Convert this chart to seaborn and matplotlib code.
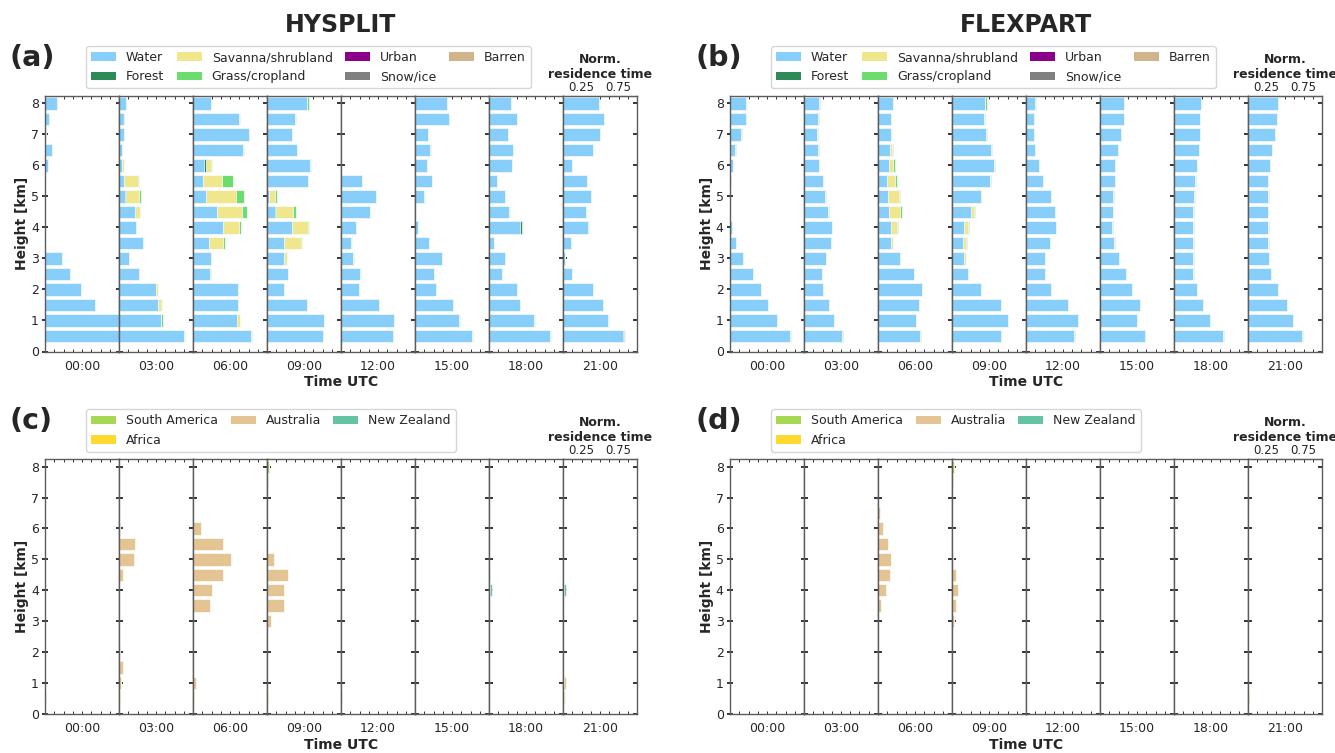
import numpy as np
import matplotlib
matplotlib.use("Agg")
import matplotlib.pyplot as plt
from matplotlib.patches import Patch
from matplotlib.ticker import MultipleLocator
import seaborn as sns

# ---------------------------------------------------------------- data
TIMES = ["00:00", "03:00", "06:00", "09:00", "12:00", "15:00", "18:00", "21:00"]
# release heights [km], listed from the top level down
HEIGHTS = [8.0, 7.5, 7.0, 6.5, 6.0, 5.5, 5.0, 4.5, 4.0, 3.5, 3.0, 2.5, 2.0, 1.5, 1.0, 0.5]

LAND_CLASSES = ["Water", "Forest", "Savanna/shrubland", "Grass/cropland",
                "Urban", "Snow/ice", "Barren"]
LAND_COLORS = ["#87CEFA", "#2E8B57", "#F0E68C", "#6CDC6E",
               "#8B008B", "#808080", "#D2B48C"]

REGIONS = ["South America", "Africa", "Australia", "New Zealand"]
REGION_COLORS = ["#A6D854", "#FFD92F", "#E5C494", "#66C2A5"]

# HYSPLIT, normalised residence time per land class (one row per release time)
HYSPLIT_WATER = [
    [0.16, 0.05, 0.015, 0.09, 0.045, 0, 0, 0, 0, 0, 0.23, 0.34, 0.49, 0.68, 1.0, 1.0],
    [0.09, 0.063, 0.063, 0.04, 0.045, 0.063, 0.085, 0.22, 0.225, 0.33, 0.13, 0.275, 0.495, 0.53, 0.57, 0.88],
    [0.24, 0.626, 0.75, 0.68, 0.15, 0.14, 0.17, 0.325, 0.40, 0.21, 0.24, 0.23, 0.61, 0.61, 0.60, 0.78],
    [0.536, 0.383, 0.333, 0.41, 0.577, 0.554, 0.03, 0.11, 0.34, 0.225, 0.225, 0.29, 0.225, 0.536, 0.77, 0.75],
    [0.005, 0, 0, 0.004, 0.004, 0.28, 0.47, 0.39, 0.2, 0.135, 0.165, 0.26, 0.24, 0.52, 0.715, 0.705],
    [0.437, 0.464, 0.17, 0.2, 0.16, 0.235, 0.126, 0, 0.036, 0.185, 0.365, 0.26, 0.28, 0.513, 0.6, 0.77],
    [0.30, 0.383, 0.26, 0.324, 0.306, 0.113, 0.21, 0.27, 0.423, 0.068, 0.216, 0.171, 0.383, 0.414, 0.613, 0.824],
    [0.486, 0.55, 0.5, 0.405, 0.12, 0.324, 0.378, 0.306, 0.333, 0.108, 0.03, 0.126, 0.41, 0.536, 0.608, 0.815],
]
HYSPLIT_FOREST = {
    "03:00": [0, 0, 0, 0, 0, 0, 0.012, 0, 0, 0, 0, 0, 0, 0, 0, 0],
    "06:00": [0, 0, 0, 0, 0.02, 0, 0, 0, 0, 0, 0, 0, 0, 0, 0, 0],
    "09:00": [0, 0, 0, 0, 0, 0, 0, 0.008, 0, 0, 0, 0, 0, 0, 0, 0],
    "18:00": [0, 0, 0, 0, 0, 0, 0, 0, 0.02, 0, 0, 0, 0, 0, 0, 0],
    "21:00": [0, 0, 0, 0, 0, 0, 0, 0, 0, 0, 0, 0, 0, 0, 0, 0.01],
}
HYSPLIT_SAVANNA = {
    "03:00": [0, 0, 0, 0, 0.02, 0.19, 0.18, 0.06, 0, 0, 0, 0, 0.03, 0.035, 0, 0],
    "06:00": [0, 0, 0, 0, 0.07, 0.25, 0.405, 0.34, 0.215, 0.195, 0, 0, 0, 0, 0.03, 0],
    "09:00": [0, 0, 0, 0, 0, 0, 0.08, 0.23, 0.215, 0.23, 0.05, 0, 0, 0, 0, 0],
    "12:00": [0, 0, 0, 0, 0, 0, 0, 0, 0, 0.01, 0, 0, 0, 0, 0, 0.008],
    "21:00": [0, 0, 0, 0, 0, 0, 0, 0, 0, 0.012, 0, 0, 0, 0, 0, 0],
}
HYSPLIT_GRASS = {
    "03:00": [0, 0, 0, 0, 0.008, 0.015, 0.02, 0.008, 0, 0, 0, 0, 0, 0.02, 0.02, 0.015],
    "06:00": [0, 0.01, 0, 0.01, 0.02, 0.15, 0.11, 0.07, 0.03, 0.03, 0, 0.008, 0, 0, 0, 0.015],
    "09:00": [0.03, 0.015, 0, 0, 0.012, 0, 0.02, 0.045, 0.015, 0.015, 0, 0, 0, 0, 0, 0.012],
    "12:00": [0, 0, 0, 0, 0, 0, 0, 0, 0, 0, 0.01, 0.015, 0, 0, 0, 0],
    "15:00": [0, 0, 0, 0.012, 0, 0, 0.006, 0, 0, 0, 0, 0, 0, 0, 0.012, 0.01],
    "18:00": [0, 0, 0, 0, 0, 0, 0.006, 0.012, 0.02, 0, 0, 0, 0, 0.008, 0.012, 0.01],
    "21:00": [0, 0, 0, 0, 0, 0, 0, 0.008, 0.012, 0, 0, 0, 0, 0, 0.012, 0.012],
}

# FLEXPART, normalised residence time per land class
FLEXPART_WATER = [
    [0.216, 0.21, 0.144, 0.072, 0.036, 0.01, 0, 0, 0.027, 0.077, 0.176, 0.306, 0.423, 0.52, 0.64, 0.815],
    [0.207, 0.19, 0.18, 0.19, 0.2, 0.25, 0.284, 0.324, 0.374, 0.365, 0.293, 0.243, 0.257, 0.333, 0.41, 0.518],
    [0.207, 0.18, 0.18, 0.167, 0.153, 0.126, 0.135, 0.153, 0.171, 0.176, 0.297, 0.49, 0.6, 0.56, 0.51, 0.572],
    [0.45, 0.432, 0.46, 0.527, 0.572, 0.513, 0.392, 0.252, 0.162, 0.144, 0.158, 0.22, 0.392, 0.662, 0.752, 0.662],
    [0.117, 0.104, 0.104, 0.117, 0.171, 0.234, 0.338, 0.396, 0.4, 0.329, 0.261, 0.261, 0.338, 0.563, 0.703, 0.649],
    [0.324, 0.324, 0.284, 0.243, 0.207, 0.198, 0.176, 0.171, 0.162, 0.189, 0.252, 0.351, 0.437, 0.536, 0.505, 0.608],
    [0.36, 0.356, 0.351, 0.333, 0.315, 0.288, 0.266, 0.261, 0.257, 0.257, 0.257, 0.261, 0.315, 0.387, 0.486, 0.662],
    [0.4, 0.387, 0.365, 0.32, 0.293, 0.27, 0.275, 0.266, 0.275, 0.27, 0.279, 0.315, 0.4, 0.522, 0.608, 0.725],
]
FLEXPART_SAVANNA = {
    "00:00": [0.008, 0, 0, 0, 0, 0, 0, 0, 0, 0, 0, 0, 0, 0, 0, 0],
    "03:00": [0, 0, 0, 0, 0.012, 0, 0, 0, 0, 0, 0, 0, 0, 0, 0, 0],
    "06:00": [0, 0, 0.012, 0.027, 0.05, 0.104, 0.144, 0.14, 0.086, 0.03, 0.008, 0, 0, 0, 0, 0],
    "09:00": [0, 0, 0, 0, 0, 0, 0.018, 0.04, 0.054, 0.04, 0.027, 0.012, 0, 0, 0, 0.01],
}
FLEXPART_GRASS = {
    "00:00": [0.006, 0.012, 0.012, 0.008, 0, 0, 0, 0, 0, 0, 0, 0, 0, 0, 0, 0.008],
    "03:00": [0, 0.008, 0.008, 0.008, 0, 0.012, 0.008, 0.008, 0, 0, 0, 0, 0, 0, 0, 0.008],
    "06:00": [0, 0, 0, 0.008, 0.02, 0.02, 0.02, 0.025, 0.015, 0, 0, 0, 0, 0, 0.008, 0.012],
    "09:00": [0.018, 0.012, 0.012, 0.012, 0.01, 0.01, 0, 0.018, 0.02, 0.018, 0, 0, 0, 0, 0, 0],
    "12:00": [0.015, 0, 0, 0, 0, 0, 0, 0, 0, 0, 0, 0, 0, 0, 0, 0.012],
    "15:00": [0, 0, 0, 0, 0, 0, 0.008, 0.008, 0.012, 0, 0, 0, 0, 0, 0, 0],
    "18:00": [0, 0, 0, 0, 0, 0.012, 0.012, 0.012, 0.012, 0.012, 0.012, 0.012, 0, 0, 0, 0.012],
    "21:00": [0, 0, 0, 0, 0, 0, 0.008, 0.008, 0.008, 0.008, 0.008, 0, 0.008, 0, 0, 0.012],
}
FLEXPART_SNOW = {
    "03:00": [0.01, 0, 0, 0, 0, 0, 0, 0, 0, 0, 0, 0, 0, 0, 0, 0],
    "15:00": [0, 0, 0, 0, 0, 0, 0, 0, 0, 0.012, 0, 0, 0, 0, 0, 0],
}

# normalised residence time over source regions
HYSPLIT_SOUTH_AMERICA = {
    "00:00": [0, 0, 0, 0, 0, 0, 0, 0, 0, 0, 0, 0, 0, 0.006, 0.006, 0.01],
    "09:00": [0.03, 0, 0, 0, 0, 0, 0, 0, 0, 0, 0, 0, 0, 0.006, 0, 0],
    "18:00": [0, 0, 0, 0, 0, 0, 0, 0, 0, 0, 0, 0, 0.005, 0, 0, 0],
    "21:00": [0, 0, 0, 0, 0, 0, 0, 0, 0, 0, 0, 0, 0, 0, 0.006, 0],
}
HYSPLIT_AFRICA = {
    "03:00": [0, 0, 0, 0, 0, 0, 0, 0, 0, 0, 0, 0, 0.008, 0, 0, 0.008],
    "06:00": [0, 0, 0, 0, 0, 0, 0, 0, 0, 0, 0, 0, 0, 0, 0, 0.01],
    "09:00": [0, 0, 0, 0, 0, 0, 0, 0, 0, 0, 0, 0, 0, 0, 0, 0.01],
    "12:00": [0, 0, 0, 0, 0, 0, 0, 0, 0, 0.006, 0, 0, 0, 0, 0, 0.008],
    "21:00": [0, 0, 0, 0, 0, 0, 0, 0, 0, 0, 0, 0, 0, 0, 0.01, 0.012],
}
HYSPLIT_AUSTRALIA = {
    "03:00": [0, 0, 0, 0, 0.018, 0.21, 0.207, 0.06, 0, 0, 0, 0, 0.01, 0.05, 0.027, 0],
    "06:00": [0, 0, 0, 0, 0.108, 0.405, 0.509, 0.41, 0.252, 0.225, 0, 0, 0, 0, 0.036, 0],
    "09:00": [0, 0, 0, 0, 0, 0, 0.095, 0.28, 0.225, 0.234, 0.05, 0, 0, 0, 0, 0],
    "18:00": [0, 0, 0, 0, 0, 0, 0, 0, 0.02, 0, 0, 0, 0, 0, 0, 0],
    "21:00": [0, 0, 0, 0, 0, 0, 0, 0, 0.01, 0, 0, 0, 0, 0, 0.02, 0.02],
}
HYSPLIT_NEW_ZEALAND = {
    "06:00": [0, 0, 0.006, 0.006, 0, 0, 0, 0, 0, 0, 0, 0, 0, 0, 0, 0],
    "09:00": [0, 0.01, 0, 0, 0.005, 0, 0, 0, 0, 0, 0, 0, 0, 0, 0, 0],
    "12:00": [0, 0, 0, 0, 0, 0, 0, 0, 0.006, 0, 0.006, 0, 0, 0, 0, 0],
    "15:00": [0, 0, 0, 0.012, 0, 0, 0, 0, 0, 0, 0, 0, 0, 0, 0, 0],
    "18:00": [0, 0, 0, 0, 0, 0, 0, 0.008, 0.025, 0, 0, 0, 0, 0, 0, 0],
    "21:00": [0, 0, 0, 0, 0, 0, 0, 0, 0.025, 0, 0, 0, 0, 0, 0, 0],
}
FLEXPART_SOUTH_AMERICA = {
    "09:00": [0.03, 0, 0, 0, 0, 0, 0, 0, 0, 0, 0, 0, 0, 0, 0, 0],
    "21:00": [0, 0, 0, 0, 0, 0, 0, 0, 0, 0, 0, 0, 0, 0, 0, 0.012],
}
FLEXPART_AUSTRALIA = {
    "06:00": [0, 0, 0, 0.027, 0.072, 0.131, 0.176, 0.162, 0.104, 0.036, 0, 0, 0, 0, 0, 0],
    "09:00": [0, 0.015, 0, 0, 0, 0, 0.02, 0.05, 0.077, 0.059, 0.027, 0, 0, 0, 0, 0],
}
FLEXPART_NEW_ZEALAND = {
    "09:00": [0, 0, 0, 0, 0.005, 0, 0, 0, 0, 0, 0, 0, 0, 0, 0, 0],
    "18:00": [0, 0, 0, 0, 0, 0, 0, 0.006, 0.006, 0, 0, 0, 0, 0, 0, 0],
}

# ---------------------------------------------------------------- style
sns.set_style("white")
plt.rcParams["font.family"] = ["DejaVu Sans"]

W, H = 1335, 753
fig = plt.figure(figsize=(W / 100, H / 100), dpi=100)

SPINE_COLOR = "#5c5c5c"
N_LEV = len(HEIGHTS)


def column_values(series, j):
    """Values of one land class / region for release time j."""
    if isinstance(series, dict):
        return np.asarray(series.get(TIMES[j], [0.0] * N_LEV), dtype=float)
    return np.asarray(series[j], dtype=float)


def draw_panel(box, tag, layers, colors, title=None):
    left, top, right, bottom = box
    cw = (right - left) / len(TIMES)
    axes = []
    for j, tm in enumerate(TIMES):
        ax = fig.add_axes([(left + j * cw) / W, 1 - bottom / H, cw / W, (bottom - top) / H])
        # cumulative stack, drawn longest first so each segment shows on top
        cum = np.zeros(N_LEV)
        stacks = []
        for series in layers:
            cum = cum + column_values(series, j)
            stacks.append(cum.copy())
        for k in range(len(stacks) - 1, -1, -1):
            if stacks[k].max() <= 0:
                continue
            sns.barplot(x=stacks[k], y=HEIGHTS, orient="h", native_scale=True,
                        width=0.8, color=colors[k], saturation=1, errorbar=None,
                        edgecolor="white", linewidth=0.5, ax=ax)
        ax.set_xlim(0, 1)
        ax.set_ylim(0, 8.25)
        ax.set_xlabel("")
        ax.set_ylabel("")
        ax.yaxis.set_major_locator(MultipleLocator(1))
        ax.set_xticks([0.5], [tm])
        ax.xaxis.set_minor_locator(MultipleLocator(0.125))
        ax.tick_params(axis="x", which="both", bottom=True, top=True, direction="in",
                       length=2.2, width=0.7, color="#333333", labelsize=9, pad=6)
        if j == 0:
            ax.tick_params(axis="y", left=True, right=True, direction="inout",
                           length=5, width=1.1, color="black", labelsize=9, pad=2)
        else:
            ax.tick_params(axis="y", left=True, right=True, direction="in",
                           length=3, width=1.1, color="black", labelleft=False)
        for s in ax.spines.values():
            s.set_color(SPINE_COLOR)
            s.set_linewidth(1.0)
        axes.append(ax)

    last = axes[-1]
    sec = last.secondary_xaxis("top")
    sec.set_xticks([0.25, 0.75])
    sec.tick_params(direction="in", length=2.2, width=0.7, labelsize=8.5, pad=1.5)
    sec.spines["top"].set_color(SPINE_COLOR)
    sec.set_xlabel("Norm.\nresidence time", fontweight="bold", fontsize=9, labelpad=2)

    cx = (left + right) / 2
    fig.text(cx / W, 1 - (bottom + 31) / H, "Time UTC", ha="center", va="center",
             fontsize=10, fontweight="bold")
    fig.text((left - 23) / W, 1 - (top + bottom) / 2 / H, "Height [km]", rotation=90,
             ha="center", va="center", fontsize=10, fontweight="bold")
    fig.text((left - 35) / W, 1 - (top - 38) / H, tag, ha="left", va="center",
             fontsize=20.5, fontweight="bold")
    if title:
        fig.text(cx / W, 1 - 25 / H, title, ha="center", va="center",
                 fontsize=17, fontweight="bold")
    return axes


land_handles = [Patch(facecolor=c, edgecolor="none", label=n)
                for n, c in zip(LAND_CLASSES, LAND_COLORS)]
region_handles = [Patch(facecolor=c, edgecolor="none", label=n)
                  for n, c in zip(REGIONS, REGION_COLORS)]

BOX_A = (45, 95.7, 637, 351.5)
BOX_B = (730, 95.7, 1322, 351.5)
BOX_C = (45, 459, 637, 713.7)
BOX_D = (730, 459, 1322, 713.7)

draw_panel(BOX_A, "(a)",
           [HYSPLIT_WATER, HYSPLIT_FOREST, HYSPLIT_SAVANNA, HYSPLIT_GRASS],
           LAND_COLORS[:4], title="HYSPLIT")
draw_panel(BOX_B, "(b)",
           [FLEXPART_WATER, {}, FLEXPART_SAVANNA, FLEXPART_GRASS, {}, FLEXPART_SNOW],
           LAND_COLORS[:6], title="FLEXPART")
draw_panel(BOX_C, "(c)",
           [HYSPLIT_SOUTH_AMERICA, HYSPLIT_AFRICA, HYSPLIT_AUSTRALIA, HYSPLIT_NEW_ZEALAND],
           REGION_COLORS)
draw_panel(BOX_D, "(d)",
           [FLEXPART_SOUTH_AMERICA, {}, FLEXPART_AUSTRALIA, FLEXPART_NEW_ZEALAND],
           REGION_COLORS)

for box, handles, ncol in [(BOX_A, land_handles, 4), (BOX_B, land_handles, 4),
                           (BOX_C, region_handles, 3), (BOX_D, region_handles, 3)]:
    fig.legend(handles=handles, loc="upper left", ncol=ncol, fontsize=9,
               columnspacing=1.0, borderaxespad=0, frameon=True,
               bbox_to_anchor=((box[0] + 41) / W, 1 - (box[1] - 49.5) / H))

fig.savefig("out.png", dpi=100)
